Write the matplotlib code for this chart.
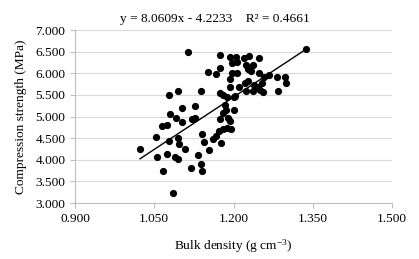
import numpy as np
import matplotlib
matplotlib.use('Agg')
import matplotlib.pyplot as plt

# Данные
bulk_density = [
    1.023, 1.054, 1.055, 1.066, 1.064, 1.075, 1.077, 1.094, 1.079, 1.092,
    1.102, 1.102, 1.077, 1.075, 1.094, 1.097, 1.108, 1.089, 1.095, 1.085,
    1.119, 1.127, 1.121, 1.127, 1.140, 1.145, 1.132, 1.138, 1.141, 1.114,
    1.139, 1.154, 1.161, 1.167, 1.172, 1.177, 1.181, 1.188, 1.196, 1.175,
    1.180, 1.186, 1.190, 1.194, 1.200, 1.183, 1.200, 1.175, 1.181, 1.187,
    1.193, 1.152, 1.167, 1.175, 1.175, 1.193, 1.197, 1.206, 1.204, 1.219,
    1.229, 1.249, 1.197, 1.206, 1.223, 1.237, 1.227, 1.234, 1.249, 1.258,
    1.268, 1.282, 1.298, 1.299, 1.285, 1.193, 1.210, 1.222, 1.228, 1.238,
    1.243, 1.247, 1.253, 1.256, 1.250, 1.224, 1.236, 1.337, 1.203,
]
compression = [
    4.242, 4.533, 4.057, 3.733, 4.792, 4.815, 5.504, 5.601, 5.058, 4.977,
    5.203, 4.873, 4.438, 4.133, 4.498, 4.360, 4.242, 4.064, 4.013, 3.224,
    3.816, 5.254, 4.954, 4.977, 4.588, 4.415, 4.103, 3.906, 3.735, 6.484,
    5.597, 4.225, 4.473, 4.542, 4.665, 4.380, 4.704, 4.727, 4.723, 4.935,
    5.074, 5.150, 4.958, 4.907, 5.162, 5.277, 5.458, 5.550, 5.497, 5.458,
    5.694, 6.022, 5.994, 6.114, 6.415, 6.376, 6.230, 6.260, 6.383, 6.364,
    6.410, 6.357, 6.017, 6.017, 6.191, 6.202, 6.098, 6.064, 6.013, 5.925,
    5.960, 5.913, 5.906, 5.768, 5.594, 5.867, 5.687, 5.775, 5.832, 5.728,
    5.670, 5.689, 5.768, 5.573, 5.613, 5.597, 5.597, 6.572, 5.486,
]
slope = 8.0609
intercept = -4.2233
r2 = 0.4661

x_ticks = [0.900, 1.050, 1.200, 1.350, 1.500]
y_ticks = [3.0, 3.5, 4.0, 4.5, 5.0, 5.5, 6.0, 6.5, 7.0]

plt.rcParams['font.family'] = ['Liberation Serif', 'DejaVu Serif']
plt.rcParams['mathtext.fontset'] = 'custom'
plt.rcParams['mathtext.rm'] = 'Liberation Serif'
plt.rcParams['mathtext.it'] = 'Liberation Serif:italic'

fig = plt.figure(figsize=(4.19, 2.59), dpi=100)
ax = fig.add_axes([0.179, 0.216, 0.7566, 0.668])

ax.scatter(bulk_density, compression, s=27, color='black', zorder=3, linewidths=0)

# Линия тренда
xs = np.array([min(bulk_density), max(bulk_density)])
ax.plot(xs, slope * xs + intercept, color='black', linewidth=1.0, zorder=2)

ax.set_xlim(0.9, 1.5)
ax.set_ylim(3.0, 7.0)
ax.set_xticks(x_ticks)
ax.set_yticks(y_ticks)
ax.set_xticklabels([f'{v:.3f}' for v in x_ticks])
ax.set_yticklabels([f'{v:.3f}' for v in y_ticks])
ax.grid(axis='y', color='#d9d9d9', linewidth=0.8, zorder=0)
ax.set_axisbelow(True)

for s in ['top', 'right']:
    ax.spines[s].set_visible(False)
for s in ['left', 'bottom']:
    ax.spines[s].set_color('#bfbfbf')
    ax.spines[s].set_linewidth(0.8)
ax.tick_params(axis='both', colors='#bfbfbf', labelcolor='black', labelsize=9.6,
               length=3.5, width=0.8, direction='out')

ax.set_xlabel(r'Bulk density (g cm$^{\mathrm{-3}}$)', fontsize=9.6, labelpad=9)
ax.set_ylabel('Compression strength (MPa)', fontsize=9.6, labelpad=6)

fig.text(0.513, 0.925, f'y = {slope}x - {abs(intercept)}    R² = {r2}',
         ha='center', va='center', fontsize=9.6)

plt.savefig('out.png', dpi=100)
